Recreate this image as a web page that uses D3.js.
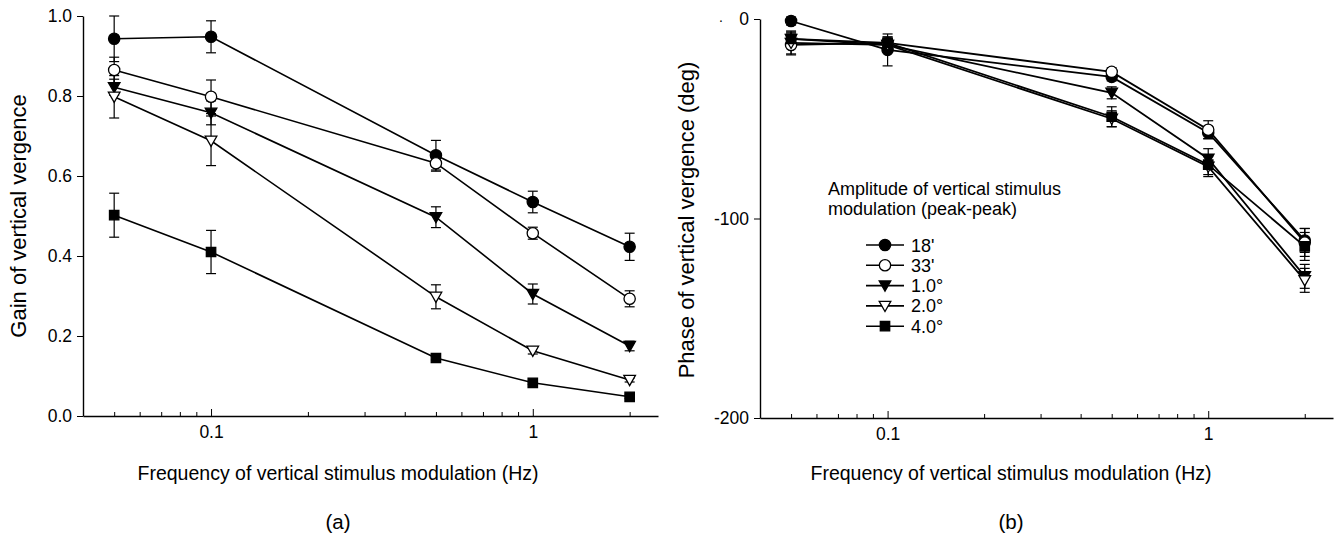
<!DOCTYPE html>
<html>
<head>
<meta charset="utf-8">
<script src="https://cdn.jsdelivr.net/npm/d3@7"></script>
<style>
  body { margin: 0; background: #fff; }
  svg text { font-family: "Liberation Sans", Arial, sans-serif; fill: #000; }
</style>
</head>
<body>
<div id="container"></div>
<script>
/* CONSTANTS AND GLOBALS */
const width = 1340, height = 537;

/* DATA */
const freqs = [0.05, 0.1, 0.5, 1, 2];
const amplitudes = ["18'", "33'", "1.0°", "2.0°", "4.0°"];

const gain18 = [0.943, 0.948, 0.652, 0.535, 0.423];
const gain33 = [0.865, 0.798, 0.632, 0.457, 0.293];
const gain1 = [0.822, 0.758, 0.497, 0.305, 0.175];
const gain2 = [0.798, 0.688, 0.298, 0.163, 0.090];
const gain4 = [0.502, 0.410, 0.145, 0.083, 0.048];

const gainErr18 = [0.057, 0.040, 0.037, 0.027, 0.034];
const gainErr33 = [0.032, 0.042, 0.020, 0.015, 0.020];
const gainErr1 = [0.020, 0.030, 0.026, 0.025, 0.012];
const gainErr2 = [0.053, 0.062, 0.030, 0.008, 0.005];
const gainErr4 = [0.055, 0.054, 0.005, 0.004, 0.004];

const phase18 = [-1, -15.5, -29, -57, -111];
const phase33 = [-13, -12, -26.5, -55.5, -112];
const phase1 = [-10, -13, -37, -70, -129];
const phase2 = [-12, -13, -50, -74, -131];
const phase4 = [-10, -12, -49, -73, -114];

const phaseErr18 = [2, 8, 2, 3, 6];
const phaseErr33 = [5, 3, 2, 4.5, 7];
const phaseErr1 = [3, 3, 3, 5, 6];
const phaseErr2 = [5.5, 3, 4, 5, 6];
const phaseErr4 = [4, 3, 5, 5, 7];

const gainTicks = [0, 0.2, 0.4, 0.6, 0.8, 1.0];
const phaseTicks = [-200, -100, 0];
const majorFreqTicks = [0.1, 1];
const minorFreqTicks = [0.05, 0.06, 0.07, 0.08, 0.09, 0.2, 0.3, 0.4, 0.5, 0.6, 0.7, 0.8, 0.9, 2];

// symbol per series: filled circle, open circle, filled tri-down, open tri-down, filled square
const symbols = [
  {shape: "circle", fill: "#000"},
  {shape: "circle", fill: "#fff"},
  {shape: "tri", fill: "#000"},
  {shape: "tri", fill: "#fff"},
  {shape: "square", fill: "#000"}
];

const gainSeries = [gain18, gain33, gain1, gain2, gain4].map((vals, i) => ({
  idx: i, name: amplitudes[i],
  pts: freqs.map((f, j) => ({f, v: vals[j], e: [gainErr18, gainErr33, gainErr1, gainErr2, gainErr4][i][j]}))
}));
const phaseSeries = [phase18, phase33, phase1, phase2, phase4].map((vals, i) => ({
  idx: i, name: amplitudes[i],
  pts: freqs.map((f, j) => ({f, v: vals[j], e: [phaseErr18, phaseErr33, phaseErr1, phaseErr2, phaseErr4][i][j]}))
}));

// CREATE SVG ELEMENT
const svg = d3.select("#container")
  .append("svg")
  .attr("width", width)
  .attr("height", height);

function markerPath(shape) {
  if (shape === "circle") return d3.symbol(d3.symbolCircle, 100)();
  if (shape === "square") return "M-4.7,-4.7H4.7V4.7H-4.7Z";
  return "M-5.8,-4.6L5.8,-4.6L0,5.6Z"; // triangle pointing down
}

function drawMarker(g, sym, x, y) {
  g.append("path")
    .attr("d", markerPath(sym.shape))
    .attr("transform", `translate(${x},${y})`)
    .attr("fill", sym.fill)
    .attr("stroke", "#000")
    .attr("stroke-width", 1.3);
}

function panel(opts) {
  const g = svg.append("g");
  const x = d3.scaleLog().domain([0.04, 2.45]).range(opts.xRange);
  const y = d3.scaleLinear().domain(opts.yDomain).range(opts.yRange);

  // AXES
  const yAxis = d3.axisLeft(y).tickValues(opts.yTicks).tickSize(6).tickSizeOuter(0)
    .tickPadding(5).tickFormat(opts.yFormat);
  g.append("g")
    .attr("transform", `translate(${opts.xRange[0]},0)`)
    .call(yAxis)
    .call(a => a.selectAll("text").attr("font-size", 17.5))
    .call(a => a.select(".domain").attr("stroke-width", 1.4));

  g.append("g")
    .attr("transform", `translate(0,${opts.yRange[0]})`)
    .call(d3.axisBottom(x).tickValues(minorFreqTicks).tickSize(-4).tickSizeOuter(0).tickFormat(""))
    .call(a => a.select(".domain").attr("stroke-width", 1.4));
  g.append("g")
    .attr("transform", `translate(0,${opts.yRange[0]})`)
    .call(d3.axisBottom(x).tickValues(majorFreqTicks).tickSize(-7).tickSizeOuter(0)
      .tickPadding(10).tickFormat(d3.format("")))
    .call(a => a.select(".domain").remove())
    .call(a => a.selectAll("text").attr("font-size", 17.5));

  // LINES
  const lineGen = d3.line().x(d => x(d.f)).y(d => y(d.v));
  g.selectAll(".line")
    .data(opts.series)
    .join("path")
    .attr("class", "line")
    .attr("d", d => lineGen(d.pts))
    .attr("fill", "none")
    .attr("stroke", "#000")
    .attr("stroke-width", opts.lineWidth);

  // ERROR BARS
  opts.series.forEach(s => {
    s.pts.forEach(p => {
      const cx = x(p.f), top = y(p.v + p.e), bot = y(p.v - p.e);
      g.append("line").attr("x1", cx).attr("x2", cx).attr("y1", top).attr("y2", bot)
        .attr("stroke", "#000").attr("stroke-width", 1.2);
      [top, bot].forEach(yy => g.append("line")
        .attr("x1", cx - 5).attr("x2", cx + 5).attr("y1", yy).attr("y2", yy)
        .attr("stroke", "#000").attr("stroke-width", 1.2));
    });
  });

  // MARKERS
  opts.series.forEach(s => {
    s.pts.forEach(p => drawMarker(g, symbols[s.idx], x(p.f), y(p.v)));
  });

  // TITLES
  g.append("text")
    .attr("x", opts.xTitleX).attr("y", 480)
    .attr("text-anchor", "middle").attr("font-size", 19.5)
    .text("Frequency of vertical stimulus modulation (Hz)");
  g.append("text")
    .attr("transform", `translate(${opts.yTitleX},${opts.yTitleY}) rotate(-90)`)
    .attr("text-anchor", "middle").attr("font-size", 22)
    .text(opts.yTitle);
  g.append("text")
    .attr("x", opts.xTitleX).attr("y", 529)
    .attr("text-anchor", "middle").attr("font-size", 20.5)
    .text(opts.tag);
  return {g, x, y};
}

panel({
  xRange: [83, 658], yRange: [416, 16], yDomain: [0, 1], yTicks: gainTicks,
  yFormat: d3.format(".1f"), series: gainSeries, lineWidth: 1.6,
  yTitle: "Gain of vertical vergence", yTitleX: 26, yTitleY: 216,
  xTitleX: 338, tag: "(a)"
});

const right = panel({
  xRange: [760, 1333], yRange: [418, 19], yDomain: [-200, 0], yTicks: phaseTicks,
  yFormat: d => String(d), series: phaseSeries, lineWidth: 1.8,
  yTitle: "Phase of vertical vergence (deg)", yTitleX: 694, yTitleY: 220,
  xTitleX: 1011, tag: "(b)"
});

// stray dot next to the top tick in panel (b)
right.g.append("text").attr("x", 719).attr("y", 22).attr("font-size", 14).text(".");

// LEGEND
const legend = svg.append("g");
legend.append("text").attr("x", 828).attr("y", 195).attr("font-size", 18)
  .text("Amplitude of vertical stimulus");
legend.append("text").attr("x", 828).attr("y", 215).attr("font-size", 18)
  .text("modulation (peak-peak)");
amplitudes.forEach((name, i) => {
  const yy = 245 + i * 20.3;
  legend.append("line").attr("x1", 866).attr("x2", 904).attr("y1", yy).attr("y2", yy)
    .attr("stroke", "#000").attr("stroke-width", 1.6);
  drawMarker(legend, symbols[i], 885, yy);
  legend.append("text").attr("x", 911).attr("y", yy + 6.5).attr("font-size", 18).text(name);
});
</script>
</body>
</html>
